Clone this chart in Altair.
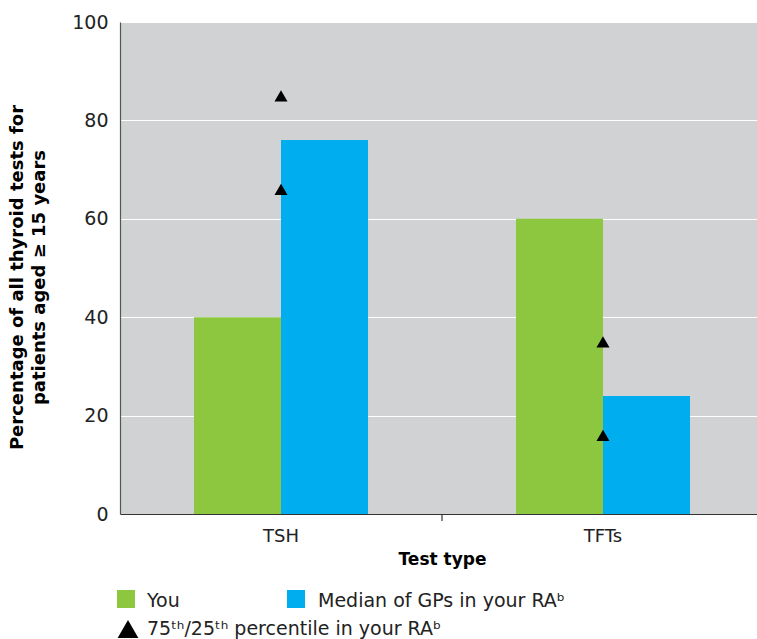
import altair as alt
import pandas as pd

# ---- data ----
categories = ["TSH", "TFTs"]
series_names = ["You", "Median of GPs in your RA"]
you_values = [40, 60]
median_values = [76, 24]
p75_values = [85, 35]
p25_values = [66, 16]
y_ticks = [0, 20, 40, 60, 80, 100]

GREEN = "#8DC63F"
BLUE = "#00AEEF"
FONT = "DejaVu Sans"

bars_df = pd.DataFrame({
    "test": categories * 2,
    "series": [series_names[0]] * 2 + [series_names[1]] * 2,
    "value": you_values + median_values,
})
pct_df = pd.DataFrame({
    "test": categories * 2,
    "value": p75_values + p25_values,
})
sep_df = pd.DataFrame({"test": categories[1:]})

x_scale = alt.Scale(domain=categories, range=[0, 644], paddingInner=0, paddingOuter=0)
y_scale = alt.Scale(domain=[0, 100], nice=False)

x_axis = alt.Axis(
    title="Test type", labelAngle=0, ticks=False,
    domainColor="#333333", domainWidth=1.2, grid=False,
    labelFontSize=18, labelFont=FONT, labelColor="#222222", labelPadding=13,
    titleFontSize=17, titleFont=FONT, titleFontWeight="bold", titleColor="#000000",
    titlePadding=6,
)
y_axis = alt.Axis(
    title=["Percentage of all thyroid tests for", "patients aged \u2265 15 years"],
    values=y_ticks, grid=True, gridColor="#FFFFFF", gridWidth=1.2, ticks=False,
    domainColor="#555555", domainWidth=1.2,
    labelFontSize=19, labelFont=FONT, labelColor="#222222", labelPadding=12,
    titleFontSize=18, titleFont=FONT, titleFontWeight="bold", titleColor="#000000",
    titlePadding=23, titleLineHeight=22, titleY=255,
)

bars = alt.Chart(bars_df).mark_bar().encode(
    x=alt.X("test:N", scale=x_scale, axis=x_axis),
    xOffset=alt.XOffset("series:N", scale=alt.Scale(domain=series_names, paddingInner=0, paddingOuter=0.85)),
    y=alt.Y("value:Q", scale=y_scale, axis=y_axis),
    color=alt.Color("series:N", scale=alt.Scale(domain=series_names, range=[GREEN, BLUE]), legend=None),
)

# separator tick between the two categories (at band boundary)
sep = alt.Chart(sep_df).mark_rule(color="#333333", strokeWidth=1.2).encode(
    x=alt.X("test:N", scale=x_scale, bandPosition=0),
    y=alt.value(492), y2=alt.value(499),
)

tris = alt.Chart(pct_df).mark_point(shape="triangle-up", filled=True, color="#000000", size=170, opacity=1).encode(
    x=alt.X("test:N", scale=x_scale),
    y=alt.Y("value:Q", scale=y_scale),
)

one = pd.DataFrame({"k": [0]})
leg_green = alt.Chart(one).mark_square(color=GREEN, size=324, opacity=1).encode(x=alt.value(6), y=alt.value(577))
leg_blue = alt.Chart(one).mark_square(color=BLUE, size=324, opacity=1).encode(x=alt.value(176), y=alt.value(577))
leg_tri = alt.Chart(one).mark_point(shape="triangle-up", filled=True, color="#000000", size=430, opacity=1).encode(
    x=alt.value(8), y=alt.value(607))
txt_style = dict(font=FONT, fontSize=19, color="#222222", align="left", baseline="alphabetic")
leg_t1 = alt.Chart(one).mark_text(text="You", **txt_style).encode(x=alt.value(27), y=alt.value(585))
leg_t2 = alt.Chart(one).mark_text(text="Median of GPs in your RA\u1d47", **txt_style).encode(x=alt.value(198), y=alt.value(585))
leg_t3 = alt.Chart(one).mark_text(text="75\u1d57\u02b0/25\u1d57\u02b0 percentile in your RA\u1d47", **txt_style).encode(
    x=alt.value(27), y=alt.value(613))

chart = alt.layer(bars, sep, tris, leg_green, leg_blue, leg_tri, leg_t1, leg_t2, leg_t3).properties(
    width=637, height=492,
    background="#FFFFFF",
    autosize=alt.AutoSizeParams(type="none"),
    padding={"left": 120, "top": 22, "right": 0, "bottom": 125},
).configure_view(fill="#D1D2D4", stroke=None)

chart.save("out.html", embed_options={"renderer": "svg", "actions": False})
